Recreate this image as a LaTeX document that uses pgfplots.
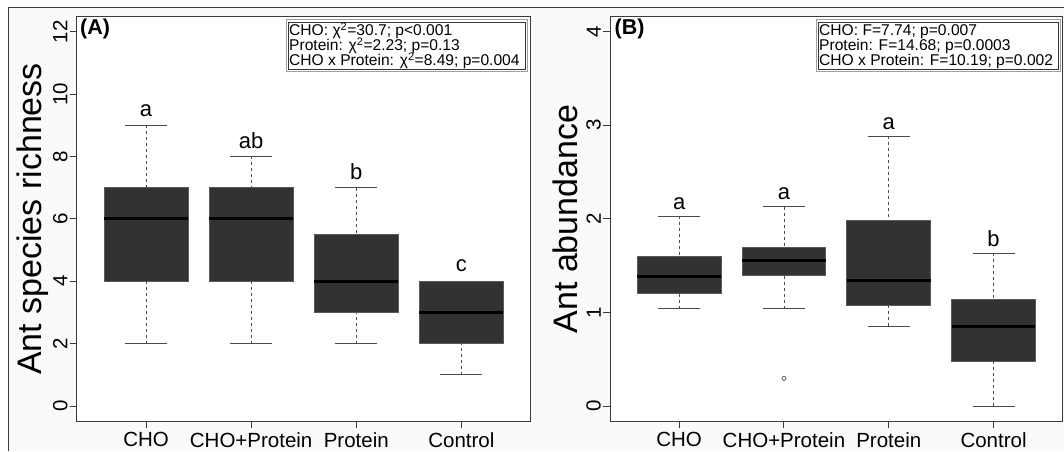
\documentclass[border=0pt]{standalone}
\usepackage{fontspec}
\setmainfont{Liberation Sans}
\usepackage{pgfplots}
\pgfplotsset{compat=1.18}
\usepgfplotslibrary{statistics}

\definecolor{boxfill}{HTML}{323232}
\definecolor{boxedge}{HTML}{5A5A5A}
\definecolor{whisk}{HTML}{4A4A4A}
\definecolor{framec}{HTML}{3A3A3A}
\definecolor{pagebg}{HTML}{FAFAFA}

\tikzset{
  grp/.style={font=\fontsize{22}{26}\selectfont, anchor=base, inner sep=0pt},
  stat/.style={font=\fontsize{15.6}{18}\selectfont, anchor=base west, inner sep=0pt},
}

\pgfplotsset{
  antbox/.style={
    scale only axis, anchor=south west,
    height=404.3pt,
    xmin=0.34, xmax=4.66,
    xtick={1,2,3,4}, xticklabels={CHO,CHO+Protein,Protein,Control},
    tick pos=left, tick align=outside, major tick length=7pt,
    tick style={framec, line width=1pt},
    axis line style={framec, line width=1pt},
    axis background/.style={fill=white},
    /pgf/number format/assume math mode=true,
    tick label style={font=\fontsize{20.5}{24}\selectfont, inner sep=0pt, text=black},
    yticklabel style={rotate=90, anchor=south},
    xticklabel style={anchor=north},
    xticklabel shift=4pt,
    yticklabel shift=2pt,
    boxplot/draw direction=y,
    boxplot/box extend=0.8,
    boxplot/whisker extend=0.4,
    boxplot/every box/.style={fill=boxfill, draw=boxedge, line width=0.9pt},
    boxplot/every median/.style={black, line width=3pt},
    boxplot/draw/lower whisker/.code={
      \draw[whisk, line width=0.9pt, dash pattern=on 3pt off 3pt]
        (boxplot box cs:\pgfplotsboxplotvalue{lower whisker},0.5) --
        (boxplot box cs:\pgfplotsboxplotvalue{lower quartile},0.5);
      \draw[whisk, line width=0.9pt]
        (boxplot whisker cs:\pgfplotsboxplotvalue{lower whisker},0) --
        (boxplot whisker cs:\pgfplotsboxplotvalue{lower whisker},1);
    },
    boxplot/draw/upper whisker/.code={
      \draw[whisk, line width=0.9pt, dash pattern=on 3pt off 3pt]
        (boxplot box cs:\pgfplotsboxplotvalue{upper whisker},0.5) --
        (boxplot box cs:\pgfplotsboxplotvalue{upper quartile},0.5);
      \draw[whisk, line width=0.9pt]
        (boxplot whisker cs:\pgfplotsboxplotvalue{upper whisker},0) --
        (boxplot whisker cs:\pgfplotsboxplotvalue{upper whisker},1);
    },
  },
}

\begin{document}
\begin{tikzpicture}
\useasboundingbox (0pt,0pt) rectangle (1064pt,451pt);
% figure panel background and frame
\fill[pagebg] (8pt,0pt) rectangle (1064pt,443pt);
\draw[framec, line width=1pt] (8pt,0pt) -- (8pt,443pt) -- (1064pt,443pt);

% ---------------- (A) species richness ----------------
\begin{axis}[antbox, at={(76.7pt,30pt)}, width=454pt,
  ymin=-0.48, ymax=12.48, ytick={0,2,...,12}]
\addplot[boxplot prepared={draw position=1, lower whisker=2, lower quartile=4,
  median=6, upper quartile=7, upper whisker=9}] coordinates {};
\addplot[boxplot prepared={draw position=2, lower whisker=2, lower quartile=4,
  median=6, upper quartile=7, upper whisker=8}] coordinates {};
\addplot[boxplot prepared={draw position=3, lower whisker=2, lower quartile=3,
  median=4, upper quartile=5.5, upper whisker=7}] coordinates {};
\addplot[boxplot prepared={draw position=4, lower whisker=1, lower quartile=2,
  median=3, upper quartile=4, upper whisker=4}] coordinates {};
\node[grp] at (axis cs:1,9.27) {a};
\node[grp] at (axis cs:2,8.27) {ab};
\node[grp] at (axis cs:3,7.27) {b};
\node[grp] at (axis cs:4,4.30) {c};
\end{axis}

% ---------------- (B) abundance ----------------
\begin{axis}[antbox, at={(610pt,30pt)}, width=452.7pt,
  ymin=-0.16, ymax=4.16, ytick={0,1,2,3,4}]
\addplot[boxplot prepared={draw position=1, lower whisker=1.04, lower quartile=1.20,
  median=1.38, upper quartile=1.60, upper whisker=2.03}] coordinates {};
\addplot[boxplot prepared={draw position=2, lower whisker=1.04, lower quartile=1.39,
  median=1.56, upper quartile=1.69, upper whisker=2.13},
  mark=o, mark size=2pt, mark options={black!70, line width=0.7pt, solid}]
  table[row sep=\\, y index=0] {data\\ 0.295\\};
\addplot[boxplot prepared={draw position=3, lower whisker=0.85, lower quartile=1.08,
  median=1.34, upper quartile=1.98, upper whisker=2.88}] coordinates {};
\addplot[boxplot prepared={draw position=4, lower whisker=0.0, lower quartile=0.48,
  median=0.85, upper quartile=1.14, upper whisker=1.63}] coordinates {};
\node[grp] at (axis cs:1,2.105) {a};
\node[grp] at (axis cs:2,2.205) {a};
\node[grp] at (axis cs:3,2.950) {a};
\node[grp] at (axis cs:4,1.705) {b};
\end{axis}

% axis titles
\node[rotate=90, anchor=base, font=\fontsize{34}{40}\selectfont] at (41.6pt,232pt) {Ant species richness};
\node[rotate=90, anchor=base, font=\fontsize{34}{40}\selectfont] at (577pt,232pt) {Ant abundance};

% panel tags
\node[anchor=base west, inner sep=0pt, font=\bfseries\fontsize{21.5}{26}\selectfont] at (80pt,416pt) {(A)};
\node[anchor=base west, inner sep=0pt, font=\bfseries\fontsize{21.5}{26}\selectfont] at (614.5pt,416pt) {(B)};

% test statistics boxes
\draw[gray!75, line width=1pt] (286pt,379.3pt) rectangle (527.3pt,431pt);
\draw[black!80, line width=0.8pt] (288pt,381.3pt) rectangle (525.3pt,429pt);
\node[stat] at (289pt,415pt) {CHO: χ\textsuperscript{2}=30.7; p<0.001};
\node[stat] at (289pt,400pt) {Protein: χ\textsuperscript{2}=2.23; p=0.13};
\node[stat] at (289pt,385pt) {CHO x Protein: χ\textsuperscript{2}=8.49; p=0.004};

\draw[gray!75, line width=1pt] (816pt,379.3pt) rectangle (1060.7pt,431pt);
\draw[black!80, line width=0.8pt] (818pt,381.3pt) rectangle (1058.7pt,429pt);
\node[stat] at (819pt,415pt) {CHO: F=7.74; p=0.007};
\node[stat] at (819pt,400pt) {Protein: F=14.68; p=0.0003};
\node[stat] at (819pt,385pt) {CHO x Protein: F=10.19; p=0.002};
\end{tikzpicture}
\end{document}
